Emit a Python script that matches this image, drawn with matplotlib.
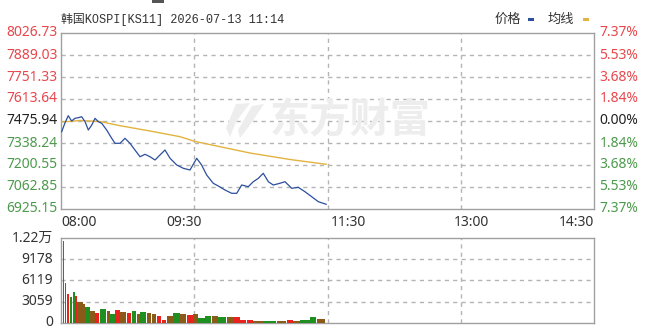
import matplotlib
matplotlib.use("Agg")
import matplotlib.pyplot as plt
from matplotlib.patches import Rectangle, Polygon
import numpy as np

# ---------------- data ----------------
title_text = "韩国KOSPI[KS11] 2026-07-13 11:14"
prev_close = 7475.94
price_ticks = [8026.73, 7889.03, 7751.33, 7613.64, 7475.94, 7338.24, 7200.55, 7062.85, 6925.15]
pct_labels = ["7.37%", "5.53%", "3.68%", "1.84%", "0.00%", "1.84%", "3.68%", "5.53%", "7.37%"]
time_labels = ["08:00", "09:30", "11:30", "13:00", "14:30"]
time_label_min = [0, 90, 210, 300, 390]   # minutes after 08:00
vol_ticks = [0, 3059, 6119, 9178, 12237]
vol_tick_labels = ["0", "3059", "6119", "9178", "1.22万"]

# price line (minutes after 08:00, index value)
price_time = [0.5, 2.9, 5.3, 7.8, 10.2, 12.7, 15.1, 17.6, 20.0, 22.5, 24.9, 27.3, 29.8,
              33.4, 37.1, 39.5, 43.2, 46.8, 50.5, 54.1, 57.8, 61.5, 65.1, 68.8, 72.4,
              76.1, 79.8, 84.7, 89.5, 94.4, 99.3, 102.9, 106.6, 111.4, 115.1, 120.0,
              124.9, 128.6, 132.2, 137.0, 140.7, 144.4, 148.0, 151.7, 155.3, 160.2,
              163.9, 168.8, 173.6, 178.5, 183.4, 188.3, 191.9, 194.0]
price_value = [7409.0, 7463.4, 7509.1, 7475.9, 7492.8, 7496.6, 7502.9, 7471.6, 7419.6,
               7450.9, 7492.8, 7471.6, 7461.5, 7419.6, 7367.6, 7336.4, 7336.4, 7367.6,
               7336.4, 7294.4, 7252.5, 7267.5, 7252.5, 7231.8, 7263.1, 7294.4, 7242.5,
               7200.5, 7179.9, 7169.3, 7242.5, 7200.5, 7137.9, 7086.0, 7069.1, 7044.1,
               7023.4, 7023.4, 7075.4, 7064.7, 7096.0, 7117.3, 7148.6, 7096.0, 7075.4,
               7086.0, 7096.0, 7054.7, 7061.0, 7033.4, 7002.1, 6970.8, 6960.8, 6954.6]

# average line
avg_time = [0.7, 13.9, 28.5, 43.2, 65.1, 87.1, 98.0, 138.3, 167.6, 194.0]
avg_value = [7469.7, 7479.1, 7472.8, 7446.5, 7413.4, 7377.7, 7348.0, 7275.6, 7234.9, 7205.0]

# volume blocks (start minute, end minute, volume, colour code r/g/b)
vol_start = [1.7, 2.6, 4.2, 6.6, 8.8, 10.2, 11.9, 16.3, 17.6, 21.2, 24.9, 28.5, 33.4,
             35.9, 39.5, 43.2, 48.1, 51.7, 55.4, 57.8, 62.7, 66.4, 70.0, 73.7, 77.3,
             82.2, 87.1, 92.0, 96.8, 100.5, 105.4, 110.3, 115.1, 121.2, 126.1, 131.0,
             135.9, 140.7, 148.0, 157.8, 165.1, 170.0, 174.9, 182.2, 187.1]
vol_end = [2.6, 4.0, 5.9, 8.0, 10.2, 11.9, 16.3, 17.6, 21.2, 24.9, 28.0, 33.4, 35.9,
           39.5, 43.2, 48.1, 51.7, 55.4, 57.8, 62.7, 66.4, 70.0, 73.7, 77.3, 82.2,
           87.1, 92.0, 96.8, 100.5, 105.4, 110.3, 115.1, 121.2, 126.1, 131.0, 135.9,
           140.7, 148.0, 157.8, 165.1, 170.0, 174.9, 182.2, 187.1, 193.2]
vol_value = [11840, 5800, 4190, 3700, 4440, 3940, 2960, 2710, 2310, 1720, 1480, 1970, 1720,
             1330, 1820, 1620, 1480, 1720, 1330, 1620, 1480, 1230, 980, 490, 980,
             1480, 1230, 1130, 1230, 740, 980, 980, 830, 930, 830, 490,
             390, 300, 240, 300, 390, 300, 490, 830, 590]
vol_color = ["g", "r", "r", "g", "g", "r", "b", "b", "g", "b", "r", "g", "b",
             "g", "r", "b", "r", "g", "b", "g", "b", "b", "r", "r", "b",
             "g", "b", "r", "b", "g", "g", "b", "g", "b", "r", "r",
             "r", "b", "g", "b", "r", "b", "g", "g", "b"]

# ---------------- styling ----------------
W, H = 660, 335
RED, GREEN, BLACK = "#e8474c", "#4d9a4d", "#222222"
FRAME, GRID = "#a0a0a0", "#b4b4b4"
COLMAP = {"r": "#e8231e", "g": "#1f8f22", "b": "#8c5a18"}
NUM_FONT = ["Noto Sans", "DejaVu Sans"]

def fx(x): return x / W
def fy(y): return 1 - y / H

fig = plt.figure(figsize=(6.6, 3.35), dpi=100)
fig.patch.set_facecolor("white")

# watermark (drawn on the figure, behind the transparent axes)
fig.text(fx(350), fy(121), "东方财富", fontsize=29, fontweight="bold", color="#ededed",
         ha="center", va="center", family=["Noto Sans CJK SC"], zorder=0)
for pts in ([(236, 104), (250, 103), (236, 122), (230, 137), (226, 128)],
            [(252, 106), (264, 104), (250, 125), (240, 138), (238, 130)]):
    fig.patches.append(Polygon([(fx(x), fy(y)) for x, y in pts], closed=True,
                               transform=fig.transFigure, facecolor="#ededed",
                               edgecolor="none", zorder=0))

L, R = 61, 594
ax = fig.add_axes([fx(L), fy(209), fx(R) - fx(L), fy(33) - fy(209)])
axv = fig.add_axes([fx(L), fy(323), fx(R) - fx(L), fy(238) - fy(323)])

ax.set_ylim(price_ticks[-1], price_ticks[0])
axv.set_ylim(0, vol_ticks[-1])

for a, yt in ((ax, price_ticks), (axv, vol_ticks)):
    a.set_xlim(0, 390)
    a.patch.set_alpha(0)
    for s in a.spines.values():
        s.set_color(FRAME)
        s.set_linewidth(1.0)
    # grid through ticks (tick marks themselves hidden)
    a.set_xticks([97.5, 195, 292.5])
    a.set_yticks(yt[1:-1])
    a.tick_params(length=0, labelleft=False, labelbottom=False)
    a.grid(True, color=GRID, lw=1.0, ls=(0, (3, 3)))
    a.set_axisbelow(True)

# lines
ax.plot(avg_time, avg_value, color="#e2b340", lw=1.0, zorder=3)
ax.plot(price_time, price_value, color="#2c4f9e", lw=0.9, zorder=4)

# volume bars
for s, e, v, c in zip(vol_start, vol_end, vol_value, vol_color):
    axv.bar(s, v, width=max(e - s - 0.3, 0.6), align="edge", color=COLMAP[c],
            edgecolor="none", zorder=3)

# price axis labels
for v, p in zip(price_ticks, pct_labels):
    col = RED if v > prev_close + 1e-6 else (BLACK if abs(v - prev_close) < 1e-6 else GREEN)
    ax.text(-0.007, v, f"{v:.2f}", transform=ax.get_yaxis_transform(), ha="right",
            va="center", fontsize=10, color=col, family=NUM_FONT)
    ax.text(1.01, v, p, transform=ax.get_yaxis_transform(), ha="left",
            va="center", fontsize=10, color=col, family=NUM_FONT)

# time labels
for t, lab in zip(time_label_min, time_labels):
    ha = "left" if t == 0 else ("right" if t == 390 else "center")
    ax.text(t, -0.035, lab, transform=ax.get_xaxis_transform(), ha=ha, va="top",
            fontsize=10, color="#333333", family=NUM_FONT)

# volume labels
for v, lab in zip(vol_ticks, vol_tick_labels):
    axv.text(-0.015, v, lab, transform=axv.get_yaxis_transform(), ha="right",
             va="center", fontsize=10, color="#333333",
             family=["Noto Sans", "Noto Sans CJK SC"])

# title & legend
fig.text(fx(61), fy(20), title_text, fontsize=8.6, color="#333333", ha="left",
         va="center", family=["Liberation Mono", "Noto Sans CJK SC"])
fig.text(fx(521), fy(19), "价格", fontsize=9.5, color="#333333", ha="right", va="center",
         family=["Noto Sans CJK SC"])
fig.patches.append(Rectangle((fx(528), fy(20.5)), fx(6), 3 / H, transform=fig.transFigure,
                             facecolor="#2c4f9e", edgecolor="none"))
fig.text(fx(574), fy(19), "均线", fontsize=9.5, color="#333333", ha="right", va="center",
         family=["Noto Sans CJK SC"])
fig.patches.append(Rectangle((fx(583), fy(20.5)), fx(6), 3 / H, transform=fig.transFigure,
                             facecolor="#e2b340", edgecolor="none"))
# small dark mark at top edge
fig.patches.append(Rectangle((fx(152), fy(3)), fx(12), 3 / H, transform=fig.transFigure,
                             facecolor="#555555", edgecolor="none"))

fig.savefig("out.png", dpi=100, facecolor="white")
